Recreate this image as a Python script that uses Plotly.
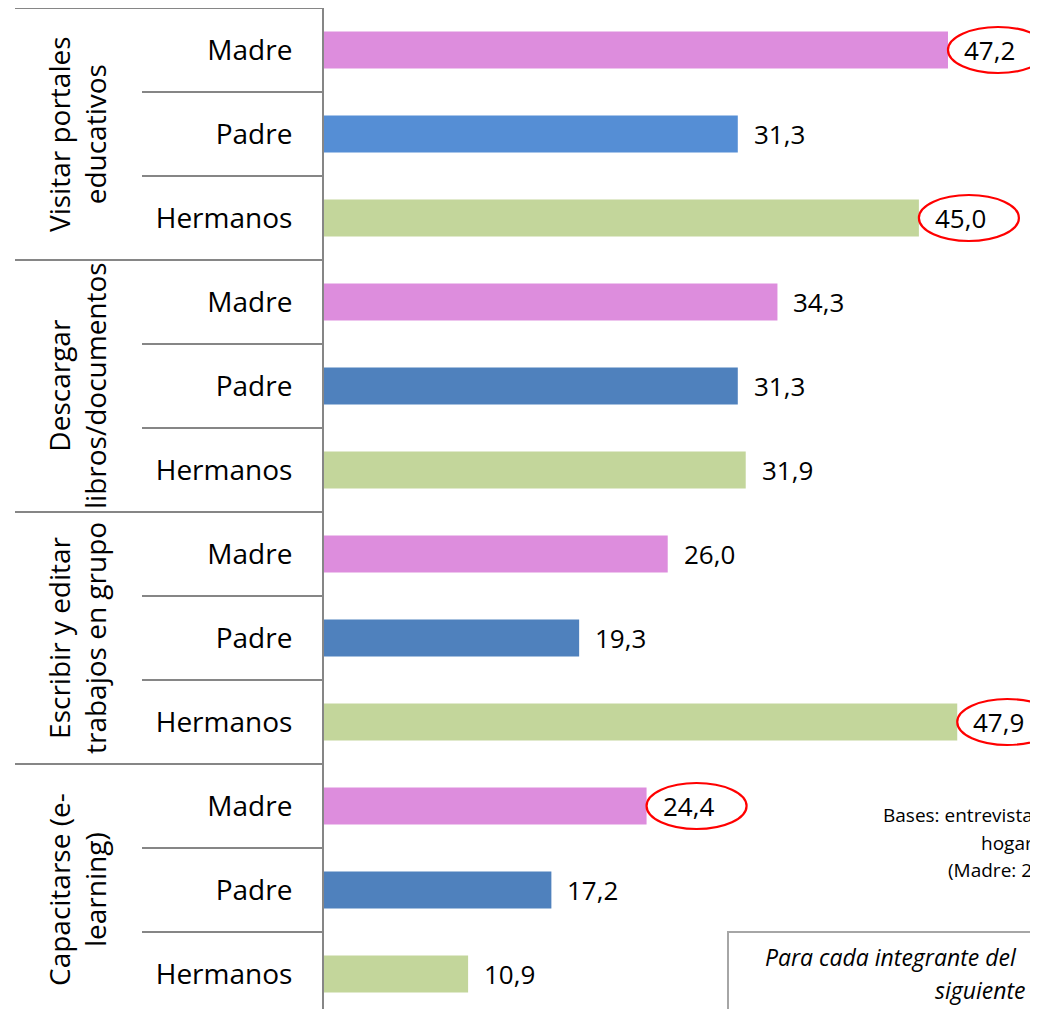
import plotly.graph_objects as go

groups = ["Visitar portales<br>educativos", "Descargar<br>libros/documentos",
          "Escribir y editar<br>trabajos en grupo", "Capacitarse (e-<br>learning)"]
members = ["Madre", "Padre", "Hermanos"]
values = [47.2, 31.3, 45.0,
          34.3, 31.3, 31.9,
          26.0, 19.3, 47.9,
          24.4, 17.2, 10.9]
labels = ["47,2", "31,3", "45,0",
          "34,3", "31,3", "31,9",
          "26,0", "19,3", "47,9",
          "24,4", "17,2", "10,9"]
bar_colors = ["#DD8DDD", "#558ED5", "#C3D69B",
              "#DD8DDD", "#4F81BD", "#C3D69B",
              "#DD8DDD", "#4F81BD", "#C3D69B",
              "#DD8DDD", "#4F81BD", "#C3D69B"]
highlighted = [0, 2, 8, 9]
notes = ["Bases: entrevista", "hogar", "(Madre: 2"]
box_lines = ["Para cada integrante del", "siguiente"]

FONT = "Open Sans"
rows = list(range(len(values)))
ticktext = [members[i % 3] for i in rows]

fig = go.Figure(go.Bar(
    x=values, y=rows, orientation="h", width=0.44,
    marker=dict(color=bar_colors, line=dict(width=0)),
    hoverinfo="skip",
))

# page has an 8px body margin, so the figure is 8px smaller than the window
W, H = 1030, 1001
ML, MT = 316, 0
AXIS_PX, TOP_PX, BOTTOM_PX = 324, 8, 1009   # page-pixel positions
pw = 1038 - AXIS_PX
ph = BOTTOM_PX - TOP_PX
def px_x(p):
    return (p - AXIS_PX) / pw
def px_y(p):
    return (BOTTOM_PX - p) / ph

annotations = []
for i, (v, t) in enumerate(zip(values, labels)):
    annotations.append(dict(x=v, y=i, xref="x", yref="y", text=t, showarrow=False,
                            xanchor="left", yanchor="middle", xshift=14,
                            font=dict(family=FONT, size=26, color="black")))

# group labels
for g, name in enumerate(groups):
    annotations.append(dict(x=px_x(77), y=g * 3 + 1, xref="paper", yref="y", text=name,
                            showarrow=False, textangle=-90, xanchor="center", yanchor="middle",
                            font=dict(family=FONT, size=28, color="black")))

# notes
for txt, (px, py) in zip(notes, [(881, 815), (979, 843), (946, 870)]):
    annotations.append(dict(x=px_x(px), y=px_y(py), xref="paper", yref="paper", text=txt,
                            showarrow=False, xanchor="left", yanchor="middle",
                            font=dict(family=FONT, size=19, color="black")))
for txt, (px, py) in zip(box_lines, [(763, 957), (933, 990)]):
    annotations.append(dict(x=px_x(px), y=px_y(py), xref="paper", yref="paper",
                            text="<i>" + txt + "</i>",
                            showarrow=False, xanchor="left", yanchor="middle",
                            font=dict(family=FONT, size=23, color="black")))

shapes = []
# separators
for i in rows:
    b = i - 0.5
    x0 = px_x(15) if i % 3 == 0 else px_x(142)
    shapes.append(dict(type="line", xref="paper", yref="y", x0=x0, x1=0, y0=b, y1=b,
                       line=dict(color="#868686", width=2)))
# ellipses
for i in highlighted:
    shapes.append(dict(type="circle", xref="x", yref="y", xsizemode="pixel", ysizemode="pixel",
                       xanchor=values[i], yanchor=i, x0=0, x1=100, y0=-23, y1=23,
                       line=dict(color="#FF0000", width=2.2)))
# box
shapes.append(dict(type="rect", xref="paper", yref="paper", x0=px_x(728), x1=1.1,
                   y0=px_y(932), y1=-0.1, line=dict(color="#A6A6A6", width=2),
                   fillcolor="rgba(0,0,0,0)"))

fig.update_layout(
    width=W, height=H,
    margin=dict(l=ML, r=0, t=MT, b=0),
    paper_bgcolor="white", plot_bgcolor="white",
    showlegend=False,
    xaxis=dict(range=[0, pw / 13.22], showgrid=False, zeroline=False,
               showticklabels=False, showline=False, ticks=""),
    yaxis=dict(range=[-0.5 + ph / 84.0, -0.5], tickvals=rows, ticktext=ticktext,
               showgrid=False, zeroline=False, showline=True, linecolor="#868686",
               linewidth=2, ticks="", ticklabelstandoff=24,
               tickfont=dict(family=FONT, size=28, color="black")),
    annotations=annotations,
    shapes=shapes,
)

fig.write_html("out.html")
